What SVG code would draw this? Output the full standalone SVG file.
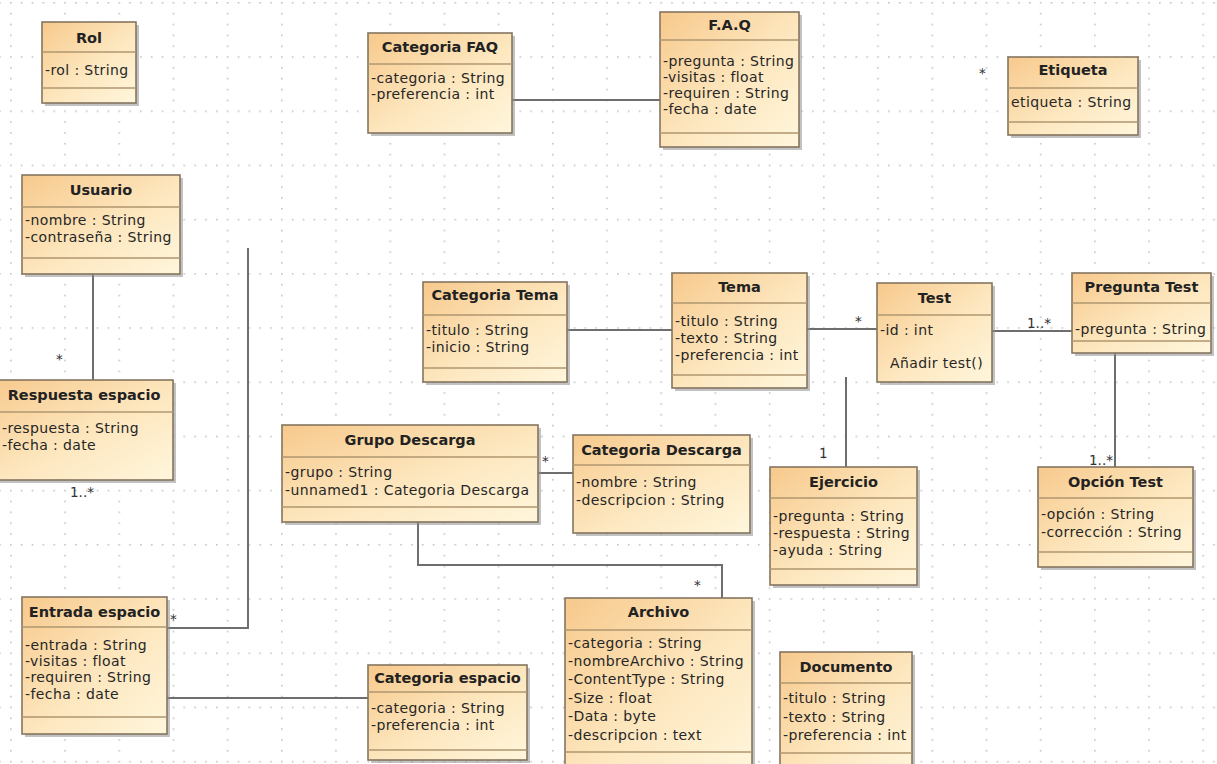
<svg xmlns="http://www.w3.org/2000/svg" width="1217" height="764" viewBox="0 0 1217 764">
<defs>
<linearGradient id="g" x1="0" y1="0" x2="1" y2="1">
<stop offset="0" stop-color="#f7c98c"/>
<stop offset="0.55" stop-color="#fde7bf"/>
<stop offset="1" stop-color="#fff6dc"/>
</linearGradient>
<pattern id="grid" x="10" y="2" width="54.2" height="54.2" patternUnits="userSpaceOnUse">
<g fill="#c4c4c4">
<rect x="0" y="0" width="1.6" height="1.6"/><rect x="0" y="10.84" width="1.6" height="1.6"/><rect x="0" y="21.68" width="1.6" height="1.6"/><rect x="0" y="32.52" width="1.6" height="1.6"/><rect x="0" y="43.36" width="1.6" height="1.6"/>
<rect x="10.84" y="0" width="1.6" height="1.6"/><rect x="21.68" y="0" width="1.6" height="1.6"/><rect x="32.52" y="0" width="1.6" height="1.6"/><rect x="43.36" y="0" width="1.6" height="1.6"/>
</g>
</pattern>
<style>
.sh{fill:#8f8f8f;opacity:.55}
.box{fill:url(#g);stroke:#85755f;stroke-width:1.6}
.dv{stroke:#b09770;stroke-width:1.4}
.t{font-family:"DejaVu Sans",sans-serif;font-weight:bold;font-size:14.5px;text-anchor:middle;fill:#222}
.a{font-family:"DejaVu Sans",sans-serif;font-size:14px;letter-spacing:.4px;fill:#262626}
.m{font-family:"DejaVu Sans",sans-serif;font-size:13.5px;fill:#333}
.c{stroke:#6e6e6e;stroke-width:2;fill:none}
</style>
</defs>
<rect width="1217" height="764" fill="#fff"/>
<rect width="1217" height="764" fill="url(#grid)"/>

<g id="connectors">
<path class="c" d="M512 100H660"/>
<path class="c" d="M93 274V380"/>
<path class="c" d="M248 248V628H167"/>
<path class="c" d="M167 698H368"/>
<path class="c" d="M567 330H672"/>
<path class="c" d="M807 329H877"/>
<path class="c" d="M992 331H1072"/>
<path class="c" d="M1115 353V467"/>
<path class="c" d="M846 377V467"/>
<path class="c" d="M538 473H573"/>
<path class="c" d="M418 522V565H722V598"/>
<text class="m" x="56" y="364">*</text>
<text class="m" x="70" y="497">1..*</text>
<text class="m" x="170" y="624">*</text>
<text class="m" x="855" y="326">*</text>
<text class="m" x="1027" y="328">1..*</text>
<text class="m" x="1089" y="465">1..*</text>
<text class="m" x="819" y="458">1</text>
<text class="m" x="542" y="466">*</text>
<text class="m" x="694" y="590">*</text>
<text class="m" x="979" y="78">*</text>
</g>

<g id="rol">
<rect class="sh" x="45" y="25" width="94" height="81"/>
<rect class="box" x="42" y="22" width="94" height="81"/>
<path class="dv" d="M42 52H136M42 88H136"/>
<text class="t" x="89" y="43">Rol</text>
<text class="a" x="45" y="75">-rol : String</text>
</g>

<g id="categoria-faq">
<rect class="sh" x="371" y="36" width="144" height="100"/>
<rect class="box" x="368" y="33" width="144" height="100"/>
<path class="dv" d="M368 64H512"/>
<text class="t" x="440" y="52">Categoria FAQ</text>
<text class="a" x="371" y="83">-categoria : String</text>
<text class="a" x="371" y="99">-preferencia : int</text>
</g>

<g id="faq">
<rect class="sh" x="663" y="15" width="139" height="135"/>
<rect class="box" x="660" y="12" width="139" height="135"/>
<path class="dv" d="M660 40H799M660 133H799"/>
<text class="t" x="729.5" y="30">F.A.Q</text>
<text class="a" x="663" y="66">-pregunta : String</text>
<text class="a" x="663" y="82">-visitas : float</text>
<text class="a" x="663" y="98">-requiren : String</text>
<text class="a" x="663" y="114">-fecha : date</text>
</g>

<g id="etiqueta">
<rect class="sh" x="1011" y="60" width="130" height="78"/>
<rect class="box" x="1008" y="57" width="130" height="78"/>
<path class="dv" d="M1008 88H1138M1008 122H1138"/>
<text class="t" x="1073" y="75">Etiqueta</text>
<text class="a" x="1011" y="107">etiqueta : String</text>
</g>

<g id="usuario">
<rect class="sh" x="25" y="178" width="158" height="99"/>
<rect class="box" x="22" y="175" width="158" height="99"/>
<path class="dv" d="M22 207H180M22 258H180"/>
<text class="t" x="101" y="195">Usuario</text>
<text class="a" x="25" y="225">-nombre : String</text>
<text class="a" x="25" y="242">-contraseña : String</text>
</g>

<g id="respuesta-espacio">
<rect class="sh" x="-9" y="383" width="185" height="100"/>
<rect class="box" x="-12" y="380" width="185" height="100"/>
<path class="dv" d="M-12 412H173"/>
<text class="t" x="84" y="400">Respuesta espacio</text>
<text class="a" x="2" y="433">-respuesta : String</text>
<text class="a" x="2" y="450">-fecha : date</text>
</g>

<g id="categoria-tema">
<rect class="sh" x="426" y="285" width="144" height="100"/>
<rect class="box" x="423" y="282" width="144" height="100"/>
<path class="dv" d="M423 315H567M423 368H567"/>
<text class="t" x="495" y="300">Categoria Tema</text>
<text class="a" x="426" y="335">-titulo : String</text>
<text class="a" x="426" y="352">-inicio : String</text>
</g>

<g id="tema">
<rect class="sh" x="675" y="276" width="135" height="115"/>
<rect class="box" x="672" y="273" width="135" height="115"/>
<path class="dv" d="M672 303H807M672 375H807"/>
<text class="t" x="739.5" y="292">Tema</text>
<text class="a" x="675" y="326">-titulo : String</text>
<text class="a" x="675" y="343">-texto : String</text>
<text class="a" x="675" y="360">-preferencia : int</text>
</g>

<g id="test">
<rect class="sh" x="880" y="286" width="115" height="99"/>
<rect class="box" x="877" y="283" width="115" height="99"/>
<path class="dv" d="M877 315H992"/>
<text class="t" x="934.5" y="303">Test</text>
<text class="a" x="880" y="335">-id : int</text>
<text class="a" x="890" y="368">Añadir test()</text>
</g>

<g id="pregunta-test">
<rect class="sh" x="1075" y="276" width="139" height="80"/>
<rect class="box" x="1072" y="273" width="139" height="80"/>
<path class="dv" d="M1072 303H1211M1072 341H1211"/>
<text class="t" x="1141.5" y="292">Pregunta Test</text>
<text class="a" x="1075" y="334">-pregunta : String</text>
</g>

<g id="grupo-descarga">
<rect class="sh" x="285" y="428" width="256" height="97"/>
<rect class="box" x="282" y="425" width="256" height="97"/>
<path class="dv" d="M282 457H538M282 507H538"/>
<text class="t" x="410" y="445">Grupo Descarga</text>
<text class="a" x="285" y="477">-grupo : String</text>
<text class="a" x="285" y="495">-unnamed1 : Categoria Descarga</text>
</g>

<g id="categoria-descarga">
<rect class="sh" x="576" y="438" width="177" height="98"/>
<rect class="box" x="573" y="435" width="177" height="98"/>
<path class="dv" d="M573 465H750"/>
<text class="t" x="661.5" y="455">Categoria Descarga</text>
<text class="a" x="576" y="487">-nombre : String</text>
<text class="a" x="576" y="505">-descripcion : String</text>
</g>

<g id="ejercicio">
<rect class="sh" x="773" y="470" width="147" height="118"/>
<rect class="box" x="770" y="467" width="147" height="118"/>
<path class="dv" d="M770 498H917M770 569H917"/>
<text class="t" x="843.5" y="487">Ejercicio</text>
<text class="a" x="773" y="521">-pregunta : String</text>
<text class="a" x="773" y="538">-respuesta : String</text>
<text class="a" x="773" y="555">-ayuda : String</text>
</g>

<g id="opcion-test">
<rect class="sh" x="1041" y="470" width="155" height="100"/>
<rect class="box" x="1038" y="467" width="155" height="100"/>
<path class="dv" d="M1038 498H1193M1038 552H1193"/>
<text class="t" x="1115.5" y="487">Opción Test</text>
<text class="a" x="1041" y="519">-opción : String</text>
<text class="a" x="1041" y="537">-corrección : String</text>
</g>

<g id="entrada-espacio">
<rect class="sh" x="25" y="600" width="145" height="137"/>
<rect class="box" x="22" y="597" width="145" height="137"/>
<path class="dv" d="M22 627H167M22 717H167"/>
<text class="t" x="94.5" y="617">Entrada espacio</text>
<text class="a" x="25" y="650">-entrada : String</text>
<text class="a" x="25" y="666">-visitas : float</text>
<text class="a" x="25" y="682">-requiren : String</text>
<text class="a" x="25" y="699">-fecha : date</text>
</g>

<g id="categoria-espacio">
<rect class="sh" x="371" y="668" width="159" height="95"/>
<rect class="box" x="368" y="665" width="159" height="95"/>
<path class="dv" d="M368 692H527M368 750H527"/>
<text class="t" x="447.5" y="683">Categoria espacio</text>
<text class="a" x="371" y="713">-categoria : String</text>
<text class="a" x="371" y="730">-preferencia : int</text>
</g>

<g id="archivo">
<rect class="sh" x="568" y="601" width="187" height="180"/>
<rect class="box" x="565" y="598" width="187" height="180"/>
<path class="dv" d="M565 630H752M565 752H752"/>
<text class="t" x="658.5" y="617">Archivo</text>
<text class="a" x="568" y="648">-categoria : String</text>
<text class="a" x="568" y="666">-nombreArchivo : String</text>
<text class="a" x="568" y="684">-ContentType : String</text>
<text class="a" x="568" y="703">-Size : float</text>
<text class="a" x="568" y="721">-Data : byte</text>
<text class="a" x="568" y="740">-descripcion : text</text>
</g>

<g id="documento">
<rect class="sh" x="783" y="655" width="132" height="130"/>
<rect class="box" x="780" y="652" width="132" height="130"/>
<path class="dv" d="M780 683H912M780 753H912"/>
<text class="t" x="846" y="672">Documento</text>
<text class="a" x="783" y="703">-titulo : String</text>
<text class="a" x="783" y="722">-texto : String</text>
<text class="a" x="783" y="740">-preferencia : int</text>
</g>
</svg>
